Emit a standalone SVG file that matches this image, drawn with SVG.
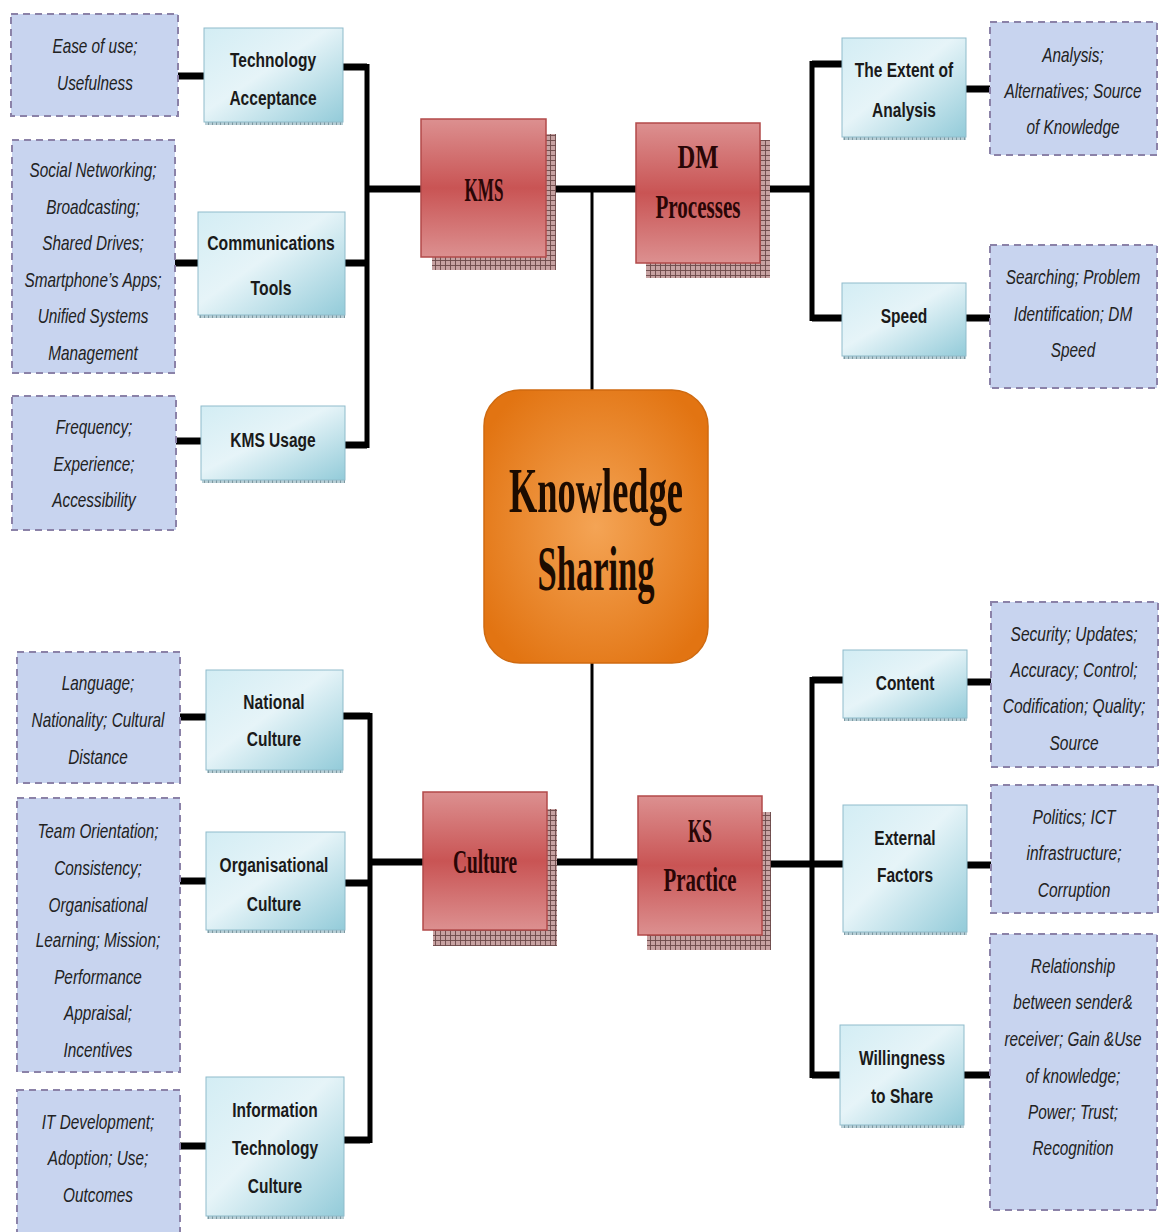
<svg xmlns="http://www.w3.org/2000/svg" width="1163" height="1232" viewBox="0 0 1163 1232">
  <defs>
    <linearGradient id="blueFill" x1="0" y1="0" x2="1" y2="1">
      <stop offset="0" stop-color="#d3edf4"/>
      <stop offset="0.45" stop-color="#e6f4f8"/>
      <stop offset="1" stop-color="#93cbd9"/>
    </linearGradient>
    <linearGradient id="redFill" x1="0" y1="0" x2="0" y2="1">
      <stop offset="0" stop-color="#dc9090"/>
      <stop offset="0.5" stop-color="#c95454"/>
      <stop offset="1" stop-color="#dc9090"/>
    </linearGradient>
    <radialGradient id="orangeFill" cx="0.5" cy="0.5" r="0.6">
      <stop offset="0" stop-color="#f4a455"/>
      <stop offset="1" stop-color="#e27412"/>
    </radialGradient>
    <pattern id="hatch" width="5" height="5" patternUnits="userSpaceOnUse">
      <rect width="5" height="5" fill="#c7a2a2"/>
      <path d="M0 0.5H5M0.5 0V5" stroke="#6b4848" stroke-width="0.9"/>
    </pattern>
    <pattern id="tick" width="4" height="4" patternUnits="userSpaceOnUse">
      <rect width="4" height="4" fill="#b8cfd6"/>
      <path d="M0.5 0V4" stroke="#6f8a93" stroke-width="0.8"/>
    </pattern>
    <style>
      .line{fill:none;stroke:#000;stroke-linejoin:miter;stroke-linecap:butt}
      .thick{stroke-width:7}
      .bar{stroke-width:5}
      .thin{stroke-width:3}
      .note rect{fill:#c8d4ef;stroke:#8b82a8;stroke-width:2;stroke-dasharray:7 5}
      .note text{font-family:"Liberation Sans",Arial,sans-serif;font-style:italic;font-size:21px;fill:#222;text-anchor:middle}
      .factor .box{fill:url(#blueFill);stroke:#8fbccb;stroke-width:1}
      .factor .strip{fill:url(#tick)}
      .factor text{font-family:"Liberation Sans",Arial,sans-serif;font-weight:bold;font-size:21px;fill:#1a1a1a;text-anchor:middle}
      .dim .shade{fill:url(#hatch)}
      .dim .box{fill:url(#redFill);stroke:#b24a4a;stroke-width:1.5}
      .dim text{font-family:"Liberation Serif","Times New Roman",serif;font-weight:bold;font-size:33px;fill:#2a0606;text-anchor:middle}
      .core text{font-family:"Liberation Serif","Times New Roman",serif;font-weight:bold;font-size:64px;fill:#1c0b00;text-anchor:middle}
    </style>
  </defs>

  <rect width="1163" height="1232" fill="#fff"/>

  <!-- connectors -->
  <g id="connectors">
    <!-- KMS branch -->
    <path class="line thick" d="M178 76H204M175 263H198M176 441H201"/>
    <path class="line thick" d="M343 67H367M345 263H367M345 445H367M367 189H421"/>
    <path class="line bar" d="M367 64V448"/>
    <path class="line thick" d="M546 189H636M760 189H812"/>
    <!-- DM branch -->
    <path class="line bar" d="M812 61V321"/>
    <path class="line thick" d="M812 64H842M812 318H842M966 89H990M966 318H990"/>
    <!-- stem through the centre -->
    <path class="line thin" d="M592 189V390M592 663V862"/>
    <!-- Culture branch -->
    <path class="line thick" d="M180 717H206M180 881H206M180 1146H206"/>
    <path class="line thick" d="M343 716H370M345 883H370M344 1140H370M370 862H423"/>
    <path class="line bar" d="M370 713V1143"/>
    <path class="line thick" d="M547 862H638M762 864H843"/>
    <!-- KS Practice branch -->
    <path class="line bar" d="M812 677V1078"/>
    <path class="line thick" d="M812 680H843M812 1075H840M967 682H991M967 865H991M964 1075H990"/>
  </g>

  <!-- central node -->
  <g id="knowledge-sharing" class="core">
    <rect x="484" y="390" width="224" height="273" rx="36" fill="url(#orangeFill)" stroke="#cf6a10" stroke-width="1.5"/>
    <text x="596" y="512" textLength="174" lengthAdjust="spacingAndGlyphs">Knowledge</text>
    <text x="596" y="590" textLength="117" lengthAdjust="spacingAndGlyphs">Sharing</text>
  </g>

  <!-- main dimensions -->
  <g id="kms" class="dim">
    <rect class="shade" x="432" y="134" width="124" height="136"/>
    <rect class="box" x="421" y="119" width="125" height="138"/>
    <text x="484" y="201" textLength="39" lengthAdjust="spacingAndGlyphs">KMS</text>
  </g>
  <g id="dm-processes" class="dim">
    <rect class="shade" x="646" y="140" width="124" height="138"/>
    <rect class="box" x="636" y="123" width="124" height="140"/>
    <text x="698" y="168" textLength="41" lengthAdjust="spacingAndGlyphs">DM</text>
    <text x="698" y="218" textLength="85" lengthAdjust="spacingAndGlyphs">Processes</text>
  </g>
  <g id="culture" class="dim">
    <rect class="shade" x="433" y="809" width="124" height="137"/>
    <rect class="box" x="423" y="792" width="124" height="138"/>
    <text x="485" y="873" textLength="64" lengthAdjust="spacingAndGlyphs">Culture</text>
  </g>
  <g id="ks-practice" class="dim">
    <rect class="shade" x="647" y="812" width="124" height="138"/>
    <rect class="box" x="638" y="796" width="124" height="139"/>
    <text x="700" y="842" textLength="24" lengthAdjust="spacingAndGlyphs">KS</text>
    <text x="700" y="891" textLength="73" lengthAdjust="spacingAndGlyphs">Practice</text>
  </g>

  <!-- factors -->
  <g id="technology-acceptance" class="factor">
    <rect class="strip" x="205" y="121" width="138" height="4"/>
    <rect class="box" x="204" y="28" width="139" height="94"/>
    <g transform="translate(273 0) scale(0.74 1)"><text x="0" y="67">Technology</text><text x="0" y="105">Acceptance</text></g>
  </g>
  <g id="communications-tools" class="factor">
    <rect class="strip" x="199" y="314" width="146" height="4"/>
    <rect class="box" x="198" y="212" width="147" height="103"/>
    <g transform="translate(271 0) scale(0.75 1)"><text x="0" y="250">Communications</text><text x="0" y="295">Tools</text></g>
  </g>
  <g id="kms-usage" class="factor">
    <rect class="strip" x="202" y="479" width="143" height="4"/>
    <rect class="box" x="201" y="406" width="144" height="74"/>
    <g transform="translate(273 0) scale(0.74 1)"><text x="0" y="447">KMS Usage</text></g>
  </g>
  <g id="extent-of-analysis" class="factor">
    <rect class="strip" x="843" y="136" width="123" height="4"/>
    <rect class="box" x="842" y="38" width="124" height="99"/>
    <g transform="translate(904 0) scale(0.74 1)"><text x="0" y="77">The Extent of</text><text x="0" y="117">Analysis</text></g>
  </g>
  <g id="speed" class="factor">
    <rect class="strip" x="843" y="355" width="123" height="4"/>
    <rect class="box" x="842" y="283" width="124" height="73"/>
    <g transform="translate(904 0) scale(0.74 1)"><text x="0" y="323">Speed</text></g>
  </g>
  <g id="national-culture" class="factor">
    <rect class="strip" x="207" y="769" width="136" height="4"/>
    <rect class="box" x="206" y="670" width="137" height="100"/>
    <g transform="translate(274 0) scale(0.74 1)"><text x="0" y="709">National</text><text x="0" y="746">Culture</text></g>
  </g>
  <g id="organisational-culture" class="factor">
    <rect class="strip" x="207" y="929" width="138" height="4"/>
    <rect class="box" x="206" y="832" width="139" height="98"/>
    <g transform="translate(274 0) scale(0.74 1)"><text x="0" y="872">Organisational</text><text x="0" y="911">Culture</text></g>
  </g>
  <g id="it-culture" class="factor">
    <rect class="strip" x="207" y="1215" width="137" height="4"/>
    <rect class="box" x="206" y="1077" width="138" height="139"/>
    <g transform="translate(275 0) scale(0.74 1)"><text x="0" y="1117">Information</text><text x="0" y="1155">Technology</text><text x="0" y="1193">Culture</text></g>
  </g>
  <g id="content" class="factor">
    <rect class="strip" x="844" y="717" width="123" height="4"/>
    <rect class="box" x="843" y="650" width="124" height="68"/>
    <g transform="translate(905 0) scale(0.74 1)"><text x="0" y="690">Content</text></g>
  </g>
  <g id="external-factors" class="factor">
    <rect class="strip" x="844" y="931" width="123" height="4"/>
    <rect class="box" x="843" y="805" width="124" height="127"/>
    <g transform="translate(905 0) scale(0.74 1)"><text x="0" y="845">External</text><text x="0" y="882">Factors</text></g>
  </g>
  <g id="willingness-to-share" class="factor">
    <rect class="strip" x="841" y="1124" width="123" height="4"/>
    <rect class="box" x="840" y="1025" width="124" height="100"/>
    <g transform="translate(902 0) scale(0.74 1)"><text x="0" y="1065">Willingness</text><text x="0" y="1103">to Share</text></g>
  </g>

  <!-- indicator notes -->
  <g id="note-technology-acceptance" class="note">
    <rect x="11" y="14" width="167" height="102"/>
    <g transform="translate(95 0) scale(0.73 1)"><text x="0" y="53">Ease of use;</text><text x="0" y="90">Usefulness</text></g>
  </g>
  <g id="note-communications-tools" class="note">
    <rect x="12" y="140" width="163" height="233"/>
    <g transform="translate(93 0) scale(0.73 1)">
      <text x="0" y="177">Social Networking;</text><text x="0" y="214">Broadcasting;</text><text x="0" y="250">Shared Drives;</text>
      <text x="0" y="287">Smartphone’s Apps;</text><text x="0" y="323">Unified Systems</text><text x="0" y="360">Management</text>
    </g>
  </g>
  <g id="note-kms-usage" class="note">
    <rect x="12" y="396" width="164" height="134"/>
    <g transform="translate(94 0) scale(0.73 1)"><text x="0" y="434">Frequency;</text><text x="0" y="471">Experience;</text><text x="0" y="507">Accessibility</text></g>
  </g>
  <g id="note-extent-of-analysis" class="note">
    <rect x="990" y="22" width="167" height="133"/>
    <g transform="translate(1073 0) scale(0.73 1)"><text x="0" y="62">Analysis;</text><text x="0" y="98">Alternatives; Source</text><text x="0" y="134">of Knowledge</text></g>
  </g>
  <g id="note-speed" class="note">
    <rect x="990" y="245" width="167" height="143"/>
    <g transform="translate(1073 0) scale(0.73 1)"><text x="0" y="284">Searching; Problem</text><text x="0" y="321">Identification; DM</text><text x="0" y="357">Speed</text></g>
  </g>
  <g id="note-national-culture" class="note">
    <rect x="17" y="652" width="163" height="131"/>
    <g transform="translate(98 0) scale(0.73 1)"><text x="0" y="690">Language;</text><text x="0" y="727">Nationality; Cultural</text><text x="0" y="764">Distance</text></g>
  </g>
  <g id="note-organisational-culture" class="note">
    <rect x="17" y="798" width="163" height="274"/>
    <g transform="translate(98 0) scale(0.73 1)">
      <text x="0" y="838">Team Orientation;</text><text x="0" y="875">Consistency;</text><text x="0" y="912">Organisational</text>
      <text x="0" y="947">Learning; Mission;</text><text x="0" y="984">Performance</text><text x="0" y="1020">Appraisal;</text><text x="0" y="1057">Incentives</text>
    </g>
  </g>
  <g id="note-it-culture" class="note">
    <rect x="17" y="1090" width="163" height="150"/>
    <g transform="translate(98 0) scale(0.73 1)"><text x="0" y="1129">IT Development;</text><text x="0" y="1165">Adoption; Use;</text><text x="0" y="1202">Outcomes</text></g>
  </g>
  <g id="note-content" class="note">
    <rect x="991" y="602" width="167" height="165"/>
    <g transform="translate(1074 0) scale(0.74 1)">
      <text x="0" y="641">Security; Updates;</text><text x="0" y="677">Accuracy; Control;</text><text x="0" y="713">Codification; Quality;</text><text x="0" y="750">Source</text>
    </g>
  </g>
  <g id="note-external-factors" class="note">
    <rect x="991" y="785" width="167" height="128"/>
    <g transform="translate(1074 0) scale(0.74 1)"><text x="0" y="824">Politics; ICT</text><text x="0" y="860">infrastructure;</text><text x="0" y="897">Corruption</text></g>
  </g>
  <g id="note-willingness-to-share" class="note">
    <rect x="990" y="934" width="167" height="276"/>
    <g transform="translate(1073 0) scale(0.73 1)">
      <text x="0" y="973">Relationship</text><text x="0" y="1009">between sender&amp;</text><text x="0" y="1046">receiver; Gain &amp;Use</text>
      <text x="0" y="1083">of knowledge;</text><text x="0" y="1119">Power; Trust;</text><text x="0" y="1155">Recognition</text>
    </g>
  </g>
</svg>
